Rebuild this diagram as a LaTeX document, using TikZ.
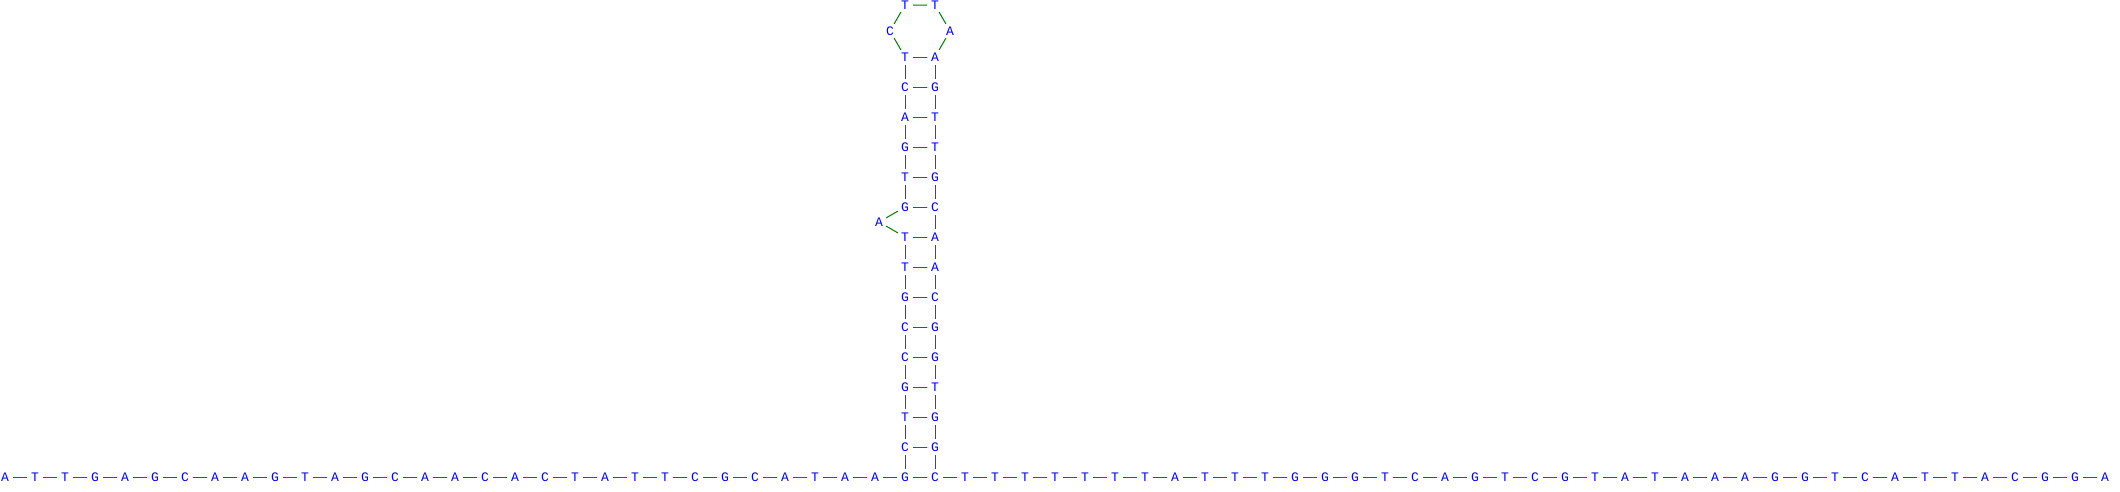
\documentclass[tikz,border=0pt]{standalone}
\usepackage{fontspec}
\setmonofont{Liberation Mono}
\definecolor{bbgreen}{RGB}{0,128,0}
\tikzset{
  base/.style={circle, minimum size=16pt, inner sep=0pt, text=blue,
    font=\ttfamily\fontsize{13}{13}\selectfont},
  bond/.style={draw=bbgreen, line width=1pt},
  pair/.style={draw=red, line width=1pt}
}
\begin{document}
\begin{tikzpicture}[x=1pt, y=-1pt]
\useasboundingbox (0,0) rectangle (2120,491);

% 5' tail
\foreach \b [count=\i from 0] in {A,T,T,G,A,G,C,A,A,G,T,A,G,C,A,A,C,A,C,T,A,T,T,C,G,C,A,T,A,A}
  \node[base] (l\i) at (5+30*\i, 477) {\b};
% 3' tail
\foreach \b [count=\i from 1] in {T,T,T,T,T,T,T,A,T,T,T,G,G,G,T,C,A,G,T,C,G,T,A,T,A,A,A,G,G,T,C,A,T,T,A,C,G,G,A}
  \node[base] (r\i) at (935+30*\i, 477) {\b};

% Stem
\foreach \b [count=\i from 0] in {G,C,T,G,C,C,G,T,T,G,T,G,A,C,T}
  \node[base] (s\i) at (905, 477-30*\i) {\b};
\foreach \b [count=\i from 0] in {C,G,G,T,G,G,C,A,A,C,G,T,T,G,A}
  \node[base] (t\i) at (935, 477-30*\i) {\b};

% Bulge and hairpin loop
\node[base] (bu) at (879, 222) {A};
\node[base] (lp1) at (890, 31) {C};
\node[base] (lp2) at (905, 5) {T};
\node[base] (lp3) at (935, 5) {T};
\node[base] (lp4) at (950, 31) {A};

% Backbone
\foreach \i [evaluate=\i as \j using int(\i+1)] in {0,...,28}
  \draw[bond] (l\i) -- (l\j);
\foreach \i [evaluate=\i as \j using int(\i+1)] in {1,...,38}
  \draw[bond] (r\i) -- (r\j);
\foreach \i [evaluate=\i as \j using int(\i+1)] in {0,...,7,9,10,...,13}
  \draw[bond] (s\i) -- (s\j);
\foreach \i [evaluate=\i as \j using int(\i+1)] in {0,...,13}
  \draw[bond] (t\i) -- (t\j);
\draw[bond] (l29) -- (s0);
\draw[bond] (t0) -- (r1);
\draw[bond] (s8) -- (bu) -- (s9);
\draw[bond] (s14) -- (lp1) -- (lp2) -- (lp3) -- (lp4) -- (t14);

% Base pairs
\foreach \i in {0,...,14}
  \draw[pair] (s\i) -- (t\i);
\end{tikzpicture}
\end{document}
